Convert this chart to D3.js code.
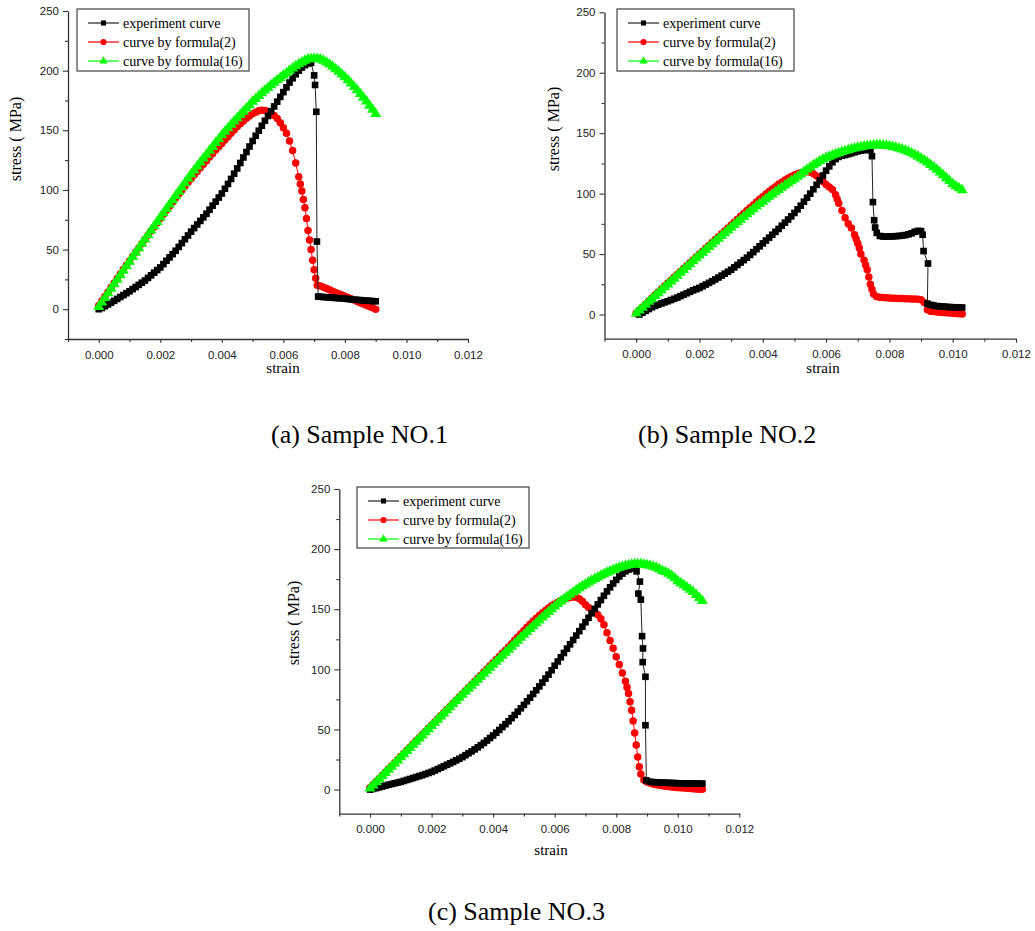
<!DOCTYPE html>
<html>
<head>
<meta charset="utf-8">
<script src="https://cdn.jsdelivr.net/npm/d3@7"></script>
<style>
  body { margin: 0; background: #fff; }
  svg { display: block; }
</style>
</head>
<body>
<svg id="fig" width="1035" height="931"></svg>
<script>
// values, [strain, stress (MPa)]

// ---- sample NO.1 ----
var sample1Experiment = [[0,0],[0.0001,1],[0.0002,2.5],[0.0003,4],[0.0004,5.5],[0.0005,7],[0.0006,8.6],[0.0007,10.2],[0.0008,11.8],[0.0009,13.4],
  [0.0010,15],[0.0011,16.8],[0.0012,18.6],[0.0013,20.4],[0.0014,22.2],[0.0015,24],[0.0016,26.2],[0.0017,28.4],[0.0018,30.6],[0.0019,32.8],
  [0.0020,35],[0.0021,37.8],[0.0022,40.6],[0.0023,43.4],[0.0024,46.2],[0.0025,49],[0.0026,52.2],[0.0027,55.4],[0.0028,58.6],[0.0029,61.8],
  [0.0030,65],[0.0031,68],[0.0032,71],[0.0033,74],[0.0034,77],[0.0035,80],[0.0036,83.4],[0.0037,86.8],[0.0038,90.2],[0.0039,93.6],
  [0.0040,97],[0.0041,101],[0.0042,105],[0.0043,109.2],[0.0044,113.6],[0.0045,118],[0.0046,122.6],[0.0047,127.2],[0.0048,131.8],[0.0049,136.4],
  [0.0050,141],[0.0051,145.4],[0.0052,149.6],[0.0053,153.8],[0.0054,158],[0.0055,162],[0.0056,166],[0.0057,170],[0.0058,174],[0.0059,178],
  [0.0060,182],[0.0061,186],[0.0062,190],[0.0063,193.6],[0.0064,197],[0.0065,200],[0.0066,202.6],[0.0067,204.6],[0.0068,206],[0.0069,206.5],
  [0.0070,196],[0.00703,188],[0.00707,165.5],[0.00709,56.7],[0.00713,10.6],
  [0.0072,10.4],[0.0073,10.2],[0.0074,10],[0.0075,9.8],[0.0076,9.6],[0.0077,9.4],[0.0078,9.2],[0.0079,9],[0.0080,8.8],[0.0081,8.5],
  [0.0082,8.2],[0.0083,8],[0.0084,7.8],[0.0085,7.6],[0.0086,7.4],[0.0087,7.2],[0.0088,7],[0.0089,6.8],[0.0090,6.6]];

var sample1Formula2 = [[0,3],[0.0001,6.8],[0.0002,10.6],[0.0003,14.4],[0.0004,18.2],[0.0005,22],[0.0006,25.8],[0.0007,29.5],[0.0008,33.2],[0.0009,36.9],
  [0.0010,40.5],[0.0011,44.1],[0.0012,47.7],[0.0013,51.3],[0.0014,54.9],[0.0015,58.5],[0.0016,62],[0.0017,65.5],[0.0018,69],[0.0019,72.5],
  [0.0020,76],[0.0021,79.5],[0.0022,83],[0.0023,86.4],[0.0024,89.8],[0.0025,93.2],[0.0026,96.5],[0.0027,99.8],[0.0028,103],[0.0029,106.2],
  [0.0030,109.4],[0.0031,112.5],[0.0032,115.5],[0.0033,118.5],[0.0034,121.5],[0.0035,124.5],[0.0036,127.5],[0.0037,130.5],[0.0038,133.4],[0.0039,136.2],
  [0.0040,139],[0.0041,141.8],[0.0042,144.6],[0.0043,147.4],[0.0044,150.2],[0.0045,153],[0.0046,155.5],[0.0047,157.8],[0.0048,160],[0.0049,162],
  [0.0050,163.8],[0.0051,165.2],[0.0052,166.3],[0.0053,166.8],[0.0054,166.6],[0.0055,165.8],[0.0056,164.3],[0.0057,162.4],[0.0058,159.8],[0.0059,156.4],
  [0.0060,152.2],[0.0061,147.5],[0.0062,141],[0.0063,133],[0.0064,122.5],[0.0065,111],[0.00655,105],[0.0066,99],[0.00665,92],[0.0067,85],
  [0.00675,76],[0.0068,66],[0.00685,58],[0.0069,50],[0.00695,41],[0.0070,33],[0.00705,26],[0.0071,20],
  [0.0072,19.4],[0.0073,18.4],[0.0074,17.3],[0.0075,16.2],[0.0076,15.1],[0.0077,14],[0.0078,13],[0.0079,11.9],[0.0080,10.8],[0.0081,9.7],
  [0.0082,8.7],[0.0083,7.6],[0.0084,6.5],[0.0085,5.4],[0.0086,4.3],[0.0087,3.2],[0.0088,2.2],[0.0089,1.1],[0.0090,0]];

var sample1Formula16 = [[0,2],[0.0001,5.8],[0.0002,9.6],[0.0003,13.4],[0.0004,17.2],[0.0005,21],[0.0006,24.8],[0.0007,28.6],[0.0008,32.4],[0.0009,36.2],
  [0.0010,40],[0.0011,43.8],[0.0012,47.5],[0.0013,51.2],[0.0014,54.9],[0.0015,58.6],[0.0016,62.3],[0.0017,66],[0.0018,69.7],[0.0019,73.3],
  [0.0020,77],[0.0021,80.6],[0.0022,84.2],[0.0023,87.8],[0.0024,91.4],[0.0025,95],[0.0026,98.6],[0.0027,102.2],[0.0028,105.8],[0.0029,109.4],
  [0.0030,113],[0.0031,116.4],[0.0032,119.8],[0.0033,123.1],[0.0034,126.4],[0.0035,129.7],[0.0036,133],[0.0037,136.2],[0.0038,139.4],[0.0039,142.7],
  [0.0040,146],[0.0041,148.9],[0.0042,151.8],[0.0043,154.7],[0.0044,157.5],[0.0045,160.3],[0.0046,163],[0.0047,165.7],[0.0048,168.4],[0.0049,171.2],
  [0.0050,174],[0.0051,176.4],[0.0052,178.8],[0.0053,181.1],[0.0054,183.4],[0.0055,185.6],[0.0056,187.8],[0.0057,189.9],[0.0058,192],[0.0059,194],
  [0.0060,196],[0.0061,198],[0.0062,200],[0.0063,202],[0.0064,203.8],[0.0065,205.5],[0.0066,207],[0.0067,208.4],[0.0068,209.4],[0.0069,210],
  [0.0070,210.2],[0.0071,210],[0.0072,209.4],[0.0073,208.4],[0.0074,207],[0.0075,205.2],[0.0076,203.3],[0.0077,201.3],[0.0078,199.2],[0.0079,197],
  [0.0080,194.6],[0.0081,192],[0.0082,189.3],[0.0083,186.5],[0.0084,183.6],[0.0085,180.6],[0.0086,177.5],[0.0087,174.2],[0.0088,170.8],[0.0089,167.3],
  [0.0090,163.8]];

// ---- sample NO.2 ----
var sample2Experiment = [[0.0001,0],[0.0002,1.5],[0.0003,3],[0.0004,4.5],[0.0005,6],[0.0006,7.2],[0.0007,8.2],[0.0008,9.2],[0.0009,10.1],
  [0.0010,11],[0.0011,12],[0.0012,13],[0.0013,14],[0.0014,15.2],[0.0015,16.4],[0.0016,17.6],[0.0017,18.8],[0.0018,20],[0.0019,21],
  [0.0020,22],[0.0021,23.4],[0.0022,24.8],[0.0023,26.2],[0.0024,27.6],[0.0025,29],[0.0026,30.6],[0.0027,32.2],[0.0028,33.8],[0.0029,35.4],
  [0.0030,37],[0.0031,39],[0.0032,41],[0.0033,43],[0.0034,45],[0.0035,47],[0.0036,49.3],[0.0037,51.6],[0.0038,54],[0.0039,56.4],
  [0.0040,58.8],[0.0041,61.2],[0.0042,63.6],[0.0043,66],[0.0044,68.4],[0.0045,70.8],[0.0046,73.4],[0.0047,76],[0.0048,78.6],[0.0049,81.2],
  [0.0050,84],[0.0051,87],[0.0052,90],[0.0053,93.3],[0.0054,96.6],[0.0055,100],[0.0056,103.6],[0.0057,107.3],[0.0058,111],[0.0059,115],
  [0.0060,119],[0.0061,122.6],[0.0062,126],[0.0063,128.6],[0.0064,130.4],[0.0065,131.4],[0.0066,132],[0.0067,132.6],[0.0068,133.4],[0.0069,134.2],
  [0.0070,135],[0.0071,135.6],[0.0072,136],[0.0073,136.2],[0.0074,136],[0.00745,131],[0.00748,93],[0.00752,78],[0.00755,72],[0.0076,67.5],
  [0.0077,65],[0.0078,64.5],[0.0079,64.5],[0.0080,64.5],[0.0081,64.6],[0.0082,64.8],[0.0083,65],[0.0084,65.3],[0.0085,65.7],[0.0086,66.3],
  [0.0087,67.2],[0.0088,68.4],[0.0089,69.2],[0.0090,69],[0.00905,66],[0.00908,52.5],[0.00922,42.2],[0.00920,9],
  [0.0093,8],[0.0094,7.5],[0.0095,7],[0.0096,6.8],[0.0097,6.6],[0.0098,6.4],[0.0099,6.2],[0.0100,6],[0.0101,6],[0.0102,5.9],[0.0103,5.8]];

var sample2Formula2 = [[0,1],[0.0001,3.6],[0.0002,6.1],[0.0003,8.6],[0.0004,11.1],[0.0005,13.6],[0.0006,16.1],[0.0007,18.6],[0.0008,21.1],[0.0009,23.6],
  [0.0010,26],[0.0011,28.4],[0.0012,30.8],[0.0013,33.2],[0.0014,35.6],[0.0015,38],[0.0016,40.4],[0.0017,42.8],[0.0018,45.2],[0.0019,47.6],
  [0.0020,50],[0.0021,52.4],[0.0022,54.8],[0.0023,57.2],[0.0024,59.6],[0.0025,62],[0.0026,64.4],[0.0027,66.8],[0.0028,69.2],[0.0029,71.6],
  [0.0030,74],[0.0031,76.4],[0.0032,78.8],[0.0033,81.2],[0.0034,83.6],[0.0035,86],[0.0036,88.4],[0.0037,90.7],[0.0038,93],[0.0039,95.3],
  [0.0040,97.5],[0.0041,99.7],[0.0042,101.8],[0.0043,103.8],[0.0044,105.8],[0.0045,107.7],[0.0046,109.5],[0.0047,111.2],[0.0048,112.8],[0.0049,114.2],
  [0.0050,115.4],[0.0051,116.4],[0.0052,117.2],[0.0053,117.8],[0.0054,118],[0.0055,117.6],[0.0056,116.4],[0.0057,114.6],[0.0058,112.4],[0.0059,110],
  [0.0060,107.6],[0.0061,105.5],[0.0062,103.4],[0.0063,99],[0.00635,95.5],[0.0064,92],[0.0065,86],[0.0066,80],[0.0067,75],[0.0068,71.5],
  [0.0069,66],[0.00695,62.5],[0.0070,59],[0.00705,55],[0.0071,50],[0.0072,45],[0.00725,41],[0.0073,37],[0.00735,31],[0.0074,25],[0.00745,21],
  [0.0075,17],[0.0076,14.8],[0.0077,14.3],[0.0078,14],[0.0079,13.8],[0.0080,13.6],[0.0081,13.5],[0.0082,13.4],[0.0083,13.3],[0.0084,13.2],
  [0.0085,13.1],[0.0086,13],[0.0087,12.9],[0.0088,12.8],[0.0089,12.6],[0.0090,12.2],[0.0091,10],[0.0092,4],[0.0093,2.8],[0.0094,2.4],
  [0.0095,2.1],[0.0096,1.8],[0.0097,1.6],[0.0098,1.4],[0.0099,1.2],[0.0100,1],[0.0101,0.8],[0.0102,0.6],[0.0103,0.4]];

var sample2Formula16 = [[0,1],[0.0001,3.4],[0.0002,5.8],[0.0003,8.2],[0.0004,10.6],[0.0005,13],[0.0006,15.4],[0.0007,17.8],[0.0008,20.2],[0.0009,22.6],
  [0.0010,25],[0.0011,27.4],[0.0012,29.8],[0.0013,32.2],[0.0014,34.6],[0.0015,37],[0.0016,39.4],[0.0017,41.8],[0.0018,44.2],[0.0019,46.6],
  [0.0020,49],[0.0021,51.3],[0.0022,53.6],[0.0023,55.9],[0.0024,58.2],[0.0025,60.5],[0.0026,62.8],[0.0027,65.1],[0.0028,67.4],[0.0029,69.7],
  [0.0030,72],[0.0031,74.2],[0.0032,76.4],[0.0033,78.6],[0.0034,80.8],[0.0035,83],[0.0036,85.2],[0.0037,87.3],[0.0038,89.4],[0.0039,91.5],
  [0.0040,93.5],[0.0041,95.5],[0.0042,97.5],[0.0043,99.4],[0.0044,101.3],[0.0045,103.2],[0.0046,105],[0.0047,106.8],[0.0048,108.6],[0.0049,110.3],
  [0.0050,112],[0.0051,114],[0.0052,116],[0.0053,118],[0.0054,120],[0.0055,121.8],[0.0056,123.6],[0.0057,125.3],[0.0058,126.9],[0.0059,128.3],
  [0.0060,129.6],[0.0061,130.7],[0.0062,131.7],[0.0063,132.7],[0.0064,133.6],[0.0065,134.5],[0.0066,135.3],[0.0067,136.1],[0.0068,136.8],[0.0069,137.5],
  [0.0070,138.1],[0.0071,138.6],[0.0072,139.1],[0.0073,139.5],[0.0074,139.8],[0.0075,140],[0.0076,140.1],[0.0077,140.1],[0.0078,140],[0.0079,139.7],
  [0.0080,139.3],[0.0081,138.8],[0.0082,138.2],[0.0083,137.5],[0.0084,136.7],[0.0085,135.8],[0.0086,134.7],[0.0087,133.5],[0.0088,132.2],[0.0089,130.8],
  [0.0090,129.3],[0.0091,127.6],[0.0092,125.8],[0.0093,123.9],[0.0094,121.9],[0.0095,119.8],[0.0096,117.6],[0.0097,115.3],[0.0098,112.9],[0.0099,110.5],
  [0.0100,108.1],[0.0101,106.3],[0.0102,104.6],[0.0103,103]];

// ---- sample NO.3 ----
var sample3Experiment = [[0,0],[0.0001,0.5],[0.0002,1.2],[0.0003,1.9],[0.0004,2.6],[0.0005,3.3],[0.0006,4],[0.0007,4.6],[0.0008,5.2],[0.0009,5.8],
  [0.0010,6.4],[0.0011,7.2],[0.0012,8],[0.0013,8.8],[0.0014,9.6],[0.0015,10.4],[0.0016,11.2],[0.0017,12],[0.0018,12.9],[0.0019,13.8],
  [0.0020,14.7],[0.0021,15.8],[0.0022,17],[0.0023,18.2],[0.0024,19.4],[0.0025,20.6],[0.0026,21.8],[0.0027,23],[0.0028,24.3],[0.0029,25.6],
  [0.0030,27],[0.0031,28.6],[0.0032,30.2],[0.0033,31.8],[0.0034,33.4],[0.0035,35.1],[0.0036,36.9],[0.0037,38.8],[0.0038,40.8],[0.0039,42.9],
  [0.0040,45],[0.0041,47.3],[0.0042,49.6],[0.0043,52],[0.0044,54.4],[0.0045,56.8],[0.0046,59.4],[0.0047,62],[0.0048,64.8],[0.0049,67.6],
  [0.0050,70.4],[0.0051,73.4],[0.0052,76.4],[0.0053,79.5],[0.0054,82.6],[0.0055,85.8],[0.0056,89],[0.0057,92.3],[0.0058,95.6],[0.0059,99.2],
  [0.0060,103],[0.0061,106.5],[0.0062,110],[0.0063,113.6],[0.0064,117.2],[0.0065,120.8],[0.0066,124.4],[0.0067,128.1],[0.0068,131.8],[0.0069,135.5],
  [0.0070,139.2],[0.0071,142.9],[0.0072,146.6],[0.0073,150.3],[0.0074,154],[0.0075,157.6],[0.0076,161.2],[0.0077,164.8],[0.0078,168.2],[0.0079,171.4],
  [0.0080,174.4],[0.0081,177.2],[0.0082,179.6],[0.0083,181.6],[0.0084,183],[0.0085,183.8],[0.0086,184],[0.00866,181.5],[0.00877,173],[0.00872,163],
  [0.00880,158],[0.00884,127.6],[0.00887,117.4],[0.00886,106],[0.00895,93.8],[0.00895,53.5],[0.00898,7.7],
  [0.0091,6.5],[0.0092,6.2],[0.0093,6],[0.0094,5.9],[0.0095,5.8],[0.0096,5.7],[0.0097,5.6],[0.0098,5.5],[0.0099,5.4],
  [0.0100,5.3],[0.0101,5.2],[0.0102,5.2],[0.0103,5.1],[0.0104,5.1],[0.0105,5],[0.0106,5],[0.0107,5],[0.0108,5]];

var sample3Formula2 = [[0,1.5],[0.0001,4.1],[0.0002,6.7],[0.0003,9.3],[0.0004,11.9],[0.0005,14.5],[0.0006,17.1],[0.0007,19.7],[0.0008,22.3],[0.0009,24.9],
  [0.0010,27.5],[0.0011,30.1],[0.0012,32.7],[0.0013,35.3],[0.0014,37.9],[0.0015,40.5],[0.0016,43.1],[0.0017,45.7],[0.0018,48.3],[0.0019,50.9],
  [0.0020,53.5],[0.0021,56.1],[0.0022,58.7],[0.0023,61.3],[0.0024,63.9],[0.0025,66.5],[0.0026,69.1],[0.0027,71.7],[0.0028,74.3],[0.0029,76.9],
  [0.0030,79.5],[0.0031,82.1],[0.0032,84.7],[0.0033,87.3],[0.0034,89.9],[0.0035,92.5],[0.0036,95.1],[0.0037,97.7],[0.0038,100.3],[0.0039,102.9],
  [0.0040,105.5],[0.0041,108.1],[0.0042,110.7],[0.0043,113.3],[0.0044,115.9],[0.0045,118.5],[0.0046,121.3],[0.0047,124.1],[0.0048,126.9],[0.0049,129.7],
  [0.0050,132.4],[0.0051,135],[0.0052,137.5],[0.0053,140],[0.0054,142.4],[0.0055,144.7],[0.0056,146.9],[0.0057,149],[0.0058,151],[0.0059,152.8],
  [0.0060,154.4],[0.0061,155.9],[0.0062,157.1],[0.0063,158.2],[0.0064,159.1],[0.0065,159.8],[0.0066,160.2],[0.0067,160],[0.0068,158.8],[0.0069,156.6],
  [0.0070,153.8],[0.0071,151.4],[0.0072,149.5],[0.0073,147.6],[0.0074,145.4],[0.0075,142],[0.0076,137],[0.0077,130.5],[0.0078,124],[0.0079,117.5],
  [0.0080,110.5],[0.0081,104],[0.0082,97],[0.0083,90],[0.00835,85],[0.0084,80],[0.00845,73],[0.0085,66],[0.00855,57],[0.0086,47],
  [0.00865,37],[0.0087,27],[0.00875,19],[0.0088,13],[0.0089,8],[0.0090,6.2],[0.0091,5.4],[0.0092,4.7],[0.0093,4.1],[0.0094,3.6],
  [0.0095,3.2],[0.0096,2.8],[0.0097,2.5],[0.0098,2.2],[0.0099,1.9],[0.0100,1.6],[0.0101,1.4],[0.0102,1.2],[0.0103,1],[0.0104,0.8],
  [0.0105,0.6],[0.0106,0.4],[0.0107,0.3],[0.0108,0.2]];

var sample3Formula16 = [[0,1],[0.0001,3.6],[0.0002,6.2],[0.0003,8.8],[0.0004,11.4],[0.0005,14],[0.0006,16.6],[0.0007,19.2],[0.0008,21.8],[0.0009,24.4],
  [0.0010,27],[0.0011,29.6],[0.0012,32.2],[0.0013,34.8],[0.0014,37.4],[0.0015,40],[0.0016,42.6],[0.0017,45.2],[0.0018,47.8],[0.0019,50.4],
  [0.0020,53],[0.0021,55.6],[0.0022,58.2],[0.0023,60.8],[0.0024,63.4],[0.0025,66],[0.0026,68.6],[0.0027,71.2],[0.0028,73.8],[0.0029,76.4],
  [0.0030,79],[0.0031,81.5],[0.0032,84],[0.0033,86.5],[0.0034,89],[0.0035,91.5],[0.0036,94],[0.0037,96.5],[0.0038,99],[0.0039,101.5],
  [0.0040,104],[0.0041,106.5],[0.0042,109],[0.0043,111.5],[0.0044,114],[0.0045,116.5],[0.0046,119],[0.0047,121.5],[0.0048,124],[0.0049,126.4],
  [0.0050,128.8],[0.0051,131.2],[0.0052,133.6],[0.0053,136],[0.0054,138.4],[0.0055,140.8],[0.0056,143.2],[0.0057,145.6],[0.0058,147.9],[0.0059,150.2],
  [0.0060,152.4],[0.0061,154.5],[0.0062,156.5],[0.0063,158.4],[0.0064,160.3],[0.0065,162.2],[0.0066,164],[0.0067,165.8],[0.0068,167.5],[0.0069,169.2],
  [0.0070,170.8],[0.0071,172.3],[0.0072,173.8],[0.0073,175.2],[0.0074,176.6],[0.0075,177.9],[0.0076,179.2],[0.0077,180.4],[0.0078,181.6],[0.0079,182.7],
  [0.0080,183.7],[0.0081,184.6],[0.0082,185.4],[0.0083,186.1],[0.0084,186.7],[0.0085,187.2],[0.0086,187.5],[0.0087,187.6],[0.0088,187.5],[0.0089,187.2],
  [0.0090,186.7],[0.0091,186.2],[0.0092,185.5],[0.0093,184.6],[0.0094,183.4],[0.0095,182],[0.0096,181],[0.0097,179.6],[0.0098,178],[0.0099,176],
  [0.0100,173.5],[0.0101,171.7],[0.0102,170],[0.0103,168.2],[0.0104,166.4],[0.0105,164.5],[0.0106,162],[0.0107,159.5],[0.0108,157]];

// labels and ticks
var seriesNames = ["experiment curve", "curve by formula(2)", "curve by formula(16)"];
var captions = ["(a) Sample NO.1", "(b) Sample NO.2", "(c) Sample NO.3"];
var xMajorTicks = [0, 0.002, 0.004, 0.006, 0.008, 0.010, 0.012];
var xMinorTicks = [-0.001, 0.001, 0.003, 0.005, 0.007, 0.009, 0.011];
var yMajorTicks = [0, 50, 100, 150, 200, 250];
var yMinorTicks = [-25, 25, 75, 125, 175, 225];
var xLabel = "strain";
var yLabel = "stress ( MPa)";

var panels = [
  { exp: sample1Experiment, f2: sample1Formula2, f16: sample1Formula16, yMin: -25,
    left: 68, right: 468, top: 11, bottom: 339,
    legend: { x: 77, y: 9, w: 172, h: 62 },
    yTitle: { x: 21, y: 139 }, xTitle: { x: 283, y: 373 }, caption: { x: 271, y: 443 } },
  { exp: sample2Experiment, f2: sample2Formula2, f16: sample2Formula16, yMin: -20,
    left: 604.5, right: 1016, top: 12.3, bottom: 338.7,
    legend: { x: 617, y: 9, w: 177, h: 62 },
    yTitle: { x: 559, y: 129 }, xTitle: { x: 823, y: 373 }, caption: { x: 638, y: 443 } },
  { exp: sample3Experiment, f2: sample3Formula2, f16: sample3Formula16, yMin: -20,
    left: 339.3, right: 739.3, top: 489, bottom: 813.6,
    legend: { x: 357, y: 487, w: 172, h: 61 },
    yTitle: { x: 299, y: 623 }, xTitle: { x: 551, y: 855 }, caption: { x: 428, y: 920 } }
];

var styles = [
  { key: "exp", color: "#000000", line: "#222222", symbol: d3.symbolSquare, size: 44, legendSize: 26 },
  { key: "f2", color: "#ff0000", line: "#ff0000", symbol: d3.symbolCircle, size: 44, legendSize: 30 },
  { key: "f16", color: "#00ff00", line: "#00ff00", symbol: d3.symbolTriangle, size: 52, legendSize: 30 }
];
// red first, black over it, green on top
var drawOrder = [1, 0, 2];

var svg = d3.select("#fig");
var serif = "'Liberation Serif', 'Times New Roman', serif";
var sans = "'Liberation Sans', Arial, sans-serif";

panels.forEach(function (p, i) {
  var x = d3.scaleLinear().domain([-0.001, 0.012]).range([p.left, p.right]);
  var y = d3.scaleLinear().domain([p.yMin, 250]).range([p.bottom, p.top]);
  var g = svg.append("g").attr("class", "panel");

  // minor ticks (only those inside the axis range)
  g.append("g")
    .attr("transform", "translate(0," + p.bottom + ")")
    .call(d3.axisBottom(x).tickValues(xMinorTicks).tickFormat("").tickSize(3).tickSizeOuter(0))
    .call(function (a) { a.select(".domain").remove(); });
  g.append("g")
    .attr("transform", "translate(" + p.left + ",0)")
    .call(d3.axisLeft(y).tickValues(yMinorTicks.filter(function (v) { return v >= p.yMin; }))
      .tickFormat("").tickSize(3).tickSizeOuter(0))
    .call(function (a) { a.select(".domain").remove(); });

  // major ticks + axis lines
  var xa = g.append("g")
    .attr("transform", "translate(0," + p.bottom + ")")
    .call(d3.axisBottom(x).tickValues(xMajorTicks).tickFormat(d3.format(".3f")).tickSize(4).tickSizeOuter(0));
  xa.selectAll("text").attr("y", 11.5);

  var ya = g.append("g")
    .attr("transform", "translate(" + p.left + ",0)")
    .call(d3.axisLeft(y).tickValues(yMajorTicks).tickSize(5).tickSizeOuter(0));
  ya.selectAll("text").attr("x", -9);

  g.selectAll(".domain").attr("stroke", "#333").attr("stroke-width", 1.3);
  g.selectAll(".tick line").attr("stroke", "#333").attr("stroke-width", 1.1);
  g.selectAll(".tick text")
    .attr("fill", "#222")
    .style("font-family", sans)
    .style("font-size", "11.5px");

  // axis titles
  g.append("text")
    .attr("x", p.xTitle.x).attr("y", p.xTitle.y)
    .attr("text-anchor", "middle")
    .style("font-family", serif).style("font-size", "15px")
    .text(xLabel);
  g.append("text")
    .attr("transform", "translate(" + p.yTitle.x + "," + p.yTitle.y + ") rotate(-90)")
    .attr("text-anchor", "middle")
    .style("font-family", serif).style("font-size", "16px")
    .text(yLabel);

  // curves
  var line = d3.line().x(function (d) { return x(d[0]); }).y(function (d) { return y(d[1]); });
  drawOrder.forEach(function (k) {
    var s = styles[k];
    var data = p[s.key];
    g.append("path").datum(data)
      .attr("d", line)
      .attr("fill", "none")
      .attr("stroke", s.line)
      .attr("stroke-width", 1);
    g.append("g").selectAll("path")
      .data(data)
      .join("path")
      .attr("transform", function (d) { return "translate(" + x(d[0]) + "," + y(d[1]) + ")"; })
      .attr("d", d3.symbol(s.symbol, s.size))
      .attr("fill", s.color);
  });

  // legend
  var lg = g.append("g").attr("transform", "translate(" + p.legend.x + "," + p.legend.y + ")");
  lg.append("rect")
    .attr("width", p.legend.w).attr("height", p.legend.h)
    .attr("fill", "#fff").attr("stroke", "#444").attr("stroke-width", 1.2);
  styles.forEach(function (s, k) {
    var cy = 14 + k * 19;
    lg.append("line")
      .attr("x1", 11).attr("x2", 42).attr("y1", cy).attr("y2", cy)
      .attr("stroke", s.line).attr("stroke-width", 1.2);
    lg.append("path")
      .attr("transform", "translate(26.5," + cy + ")")
      .attr("d", d3.symbol(s.symbol, s.legendSize))
      .attr("fill", s.color);
    lg.append("text")
      .attr("x", 46).attr("y", cy).attr("dy", "0.35em")
      .style("font-family", serif).style("font-size", "14px")
      .text(seriesNames[k]);
  });

  // caption under the panel
  svg.append("text")
    .attr("x", p.caption.x).attr("y", p.caption.y)
    .style("font-family", serif).style("font-size", "26px")
    .text(captions[i]);
});
</script>
</body>
</html>
